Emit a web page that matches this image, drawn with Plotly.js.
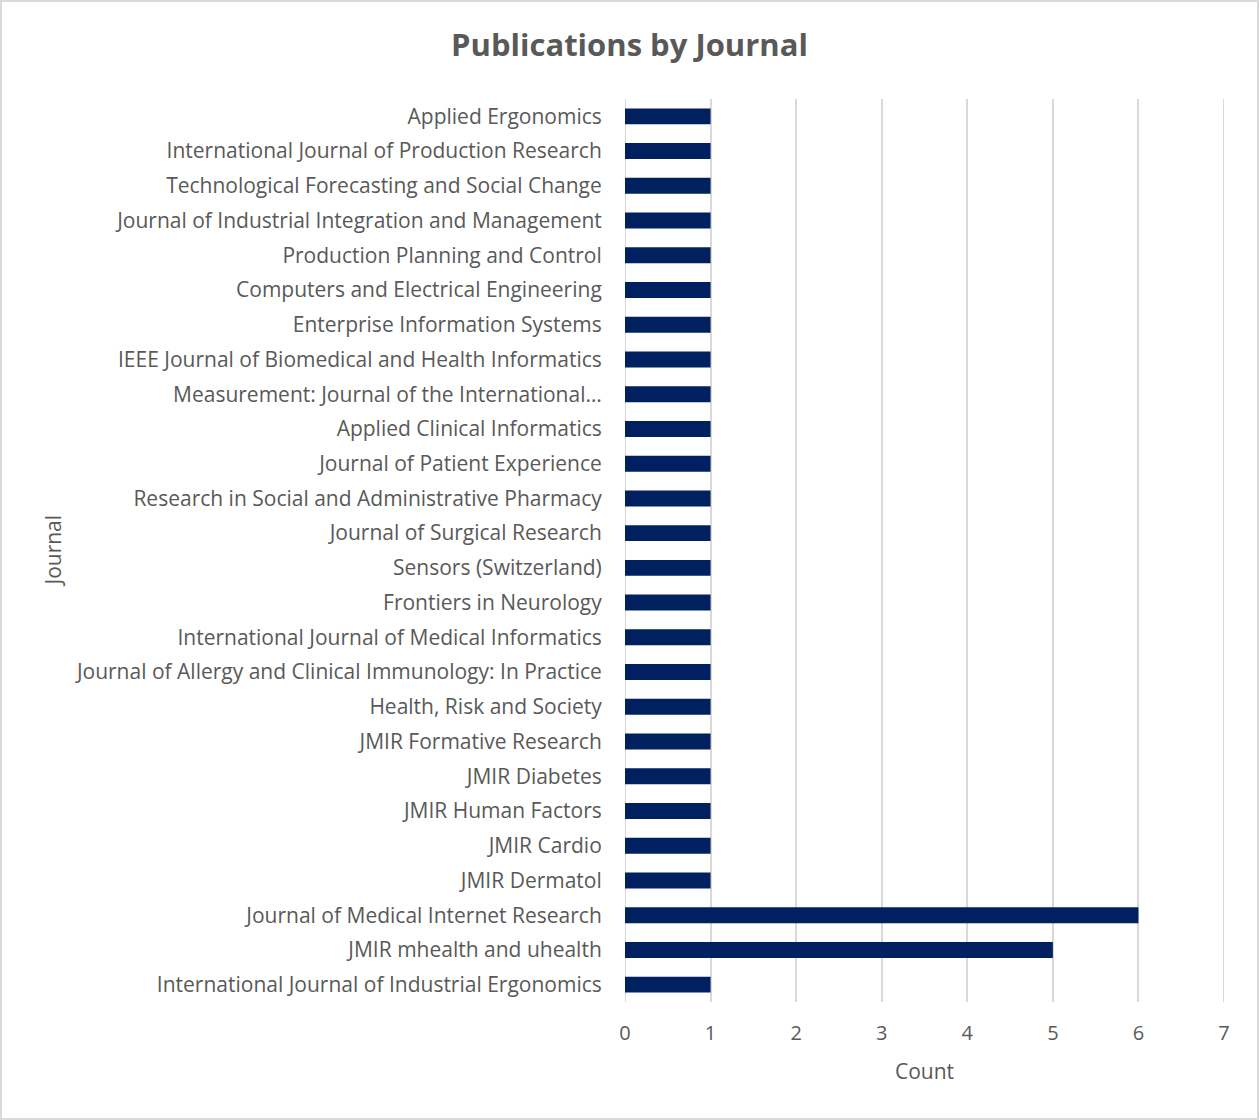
<!DOCTYPE html>
<html>
<head>
<meta charset="utf-8">
<script src="https://cdn.plot.ly/plotly-3.0.1.min.js"></script>
<style>
  html, body { margin: 0; padding: 0; background: #fff; }
  #wrap { position: relative; width: 1259px; height: 1120px; }
  #chart { width: 1259px; height: 1120px; }
  #frame { position: absolute; left: 0; top: 0; width: 1259px; height: 1120px; box-sizing: border-box;
           border: 2px solid #d9d9d9; pointer-events: none; }
</style>
</head>
<body>
<div id="wrap"><div id="chart"></div><div id="frame"></div></div>
<script>
const journals = [
  "Applied Ergonomics",
  "International Journal of Production Research",
  "Technological Forecasting and Social Change",
  "Journal of Industrial Integration and Management",
  "Production Planning and Control",
  "Computers and Electrical Engineering",
  "Enterprise Information Systems",
  "IEEE Journal of Biomedical and Health Informatics",
  "Measurement: Journal of the International…",
  "Applied Clinical Informatics",
  "Journal of Patient Experience",
  "Research in Social and Administrative Pharmacy",
  "Journal of Surgical Research",
  "Sensors (Switzerland)",
  "Frontiers in Neurology",
  "International Journal of Medical Informatics",
  "Journal of Allergy and Clinical Immunology: In Practice",
  "Health, Risk and Society",
  "JMIR Formative Research",
  "JMIR Diabetes",
  "JMIR Human Factors",
  "JMIR Cardio",
  "JMIR Dermatol",
  "Journal of Medical Internet Research",
  "JMIR mhealth and uhealth",
  "International Journal of Industrial Ergonomics"
];
const counts = [1,1,1,1,1,1,1,1,1,1,1,1,1,1,1,1,1,1,1,1,1,1,1,6,5,1];
const xTicks = [0,1,2,3,4,5,6,7];

const FONT = '"Open Sans", "Noto Sans", sans-serif';
const GREY = '#595959';
const ML = 625, MR = 35, W = 1259;
const plotW = W - ML - MR;

const trace = {
  type: 'bar',
  orientation: 'h',
  y: journals,
  x: counts,
  marker: { color: '#002060', line: { width: 0 } },
  hoverinfo: 'x+y'
};

const layout = {
  width: 1259,
  height: 1120,
  paper_bgcolor: '#ffffff',
  plot_bgcolor: '#ffffff',
  margin: { l: ML, r: MR, t: 99, b: 118, pad: 0 },
  bargap: 0.54,
  showlegend: false,
  font: { family: FONT, color: GREY, size: 20 },
  title: {
    text: '<b>Publications by Journal</b>',
    x: 0.5, xanchor: 'center',
    y: 1 - 45/1120, yanchor: 'middle',
    font: { family: FONT, size: 31, color: GREY }
  },
  xaxis: {
    range: [0, 7],
    tickvals: xTicks,
    ticktext: xTicks.map(String),
    showgrid: true,
    gridcolor: '#d9d9d9',
    gridwidth: 2,
    zeroline: false,
    showline: false,
    ticks: 'outside',
    ticklen: 13,
    tickcolor: 'rgba(0,0,0,0)',
    tickfont: { family: FONT, size: 20, color: GREY },
    title: { text: 'Count', font: { family: FONT, size: 21, color: GREY }, standoff: 19 },
    fixedrange: true
  },
  yaxis: {
    type: 'category',
    autorange: 'reversed',
    showgrid: false,
    zeroline: false,
    showline: false,
    ticks: 'outside',
    ticklen: 18,
    tickcolor: 'rgba(0,0,0,0)',
    tickfont: { family: FONT, size: 21, color: GREY },
    fixedrange: true
  },
  shapes: [
    { type: 'line', xref: 'x', yref: 'paper', x0: 0, x1: 0, y0: 0, y1: 1,
      line: { color: '#d9d9d9', width: 2 }, layer: 'below' },
    { type: 'line', xref: 'x', yref: 'paper', x0: 7, x1: 7, y0: 0, y1: 1,
      line: { color: '#d9d9d9', width: 2 }, layer: 'below' }
  ],
  annotations: [{
    text: 'Journal', textangle: -90,
    xref: 'paper', yref: 'paper',
    x: (52 - ML) / plotW, y: 0.5,
    xanchor: 'center', yanchor: 'middle', showarrow: false,
    font: { family: FONT, size: 21, color: GREY }
  }]
};

Plotly.newPlot('chart', [trace], layout, { displayModeBar: false, staticPlot: true });
</script>
</body>
</html>
